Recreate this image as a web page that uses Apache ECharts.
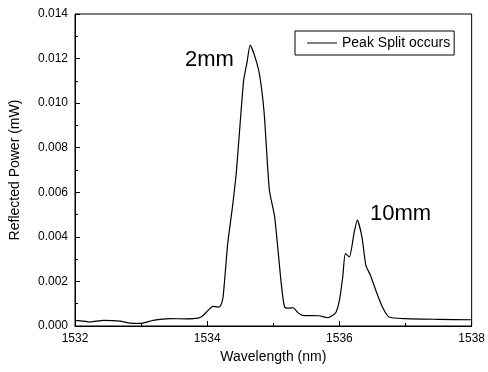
<!DOCTYPE html>
<html>
<head>
<meta charset="utf-8">
<script src="https://cdn.jsdelivr.net/npm/echarts@6/dist/echarts.min.js"></script>
<style>
  html, body { margin: 0; padding: 0; background: #fff; }
  #main { width: 488px; height: 372px; }
</style>
</head>
<body>
<div id="main"></div>
<script>
// wavelength (nm) and reflected power (mW)
var wavelength = [
  1532.00, 1532.12, 1532.23, 1532.43, 1532.68, 1532.83, 1533.00, 1533.18, 1533.43, 1533.68,
  1533.86, 1533.93, 1533.99, 1534.09, 1534.16, 1534.20, 1534.24, 1534.31, 1534.38, 1534.44,
  1534.55, 1534.60, 1534.65, 1534.72, 1534.79, 1534.86, 1534.94, 1535.02, 1535.12, 1535.17,
  1535.24, 1535.30, 1535.37, 1535.44, 1535.69, 1535.82, 1535.90, 1535.95, 1536.00, 1536.05,
  1536.09, 1536.15, 1536.22, 1536.27, 1536.34, 1536.40, 1536.47, 1536.55, 1536.65, 1536.75,
  1537.00, 1537.50, 1538.00
];
var power = [
  0.00025, 0.00022, 0.00018, 0.00025, 0.00022, 0.00013, 0.00012, 0.00025, 0.00033, 0.00032,
  0.00035, 0.00045, 0.00063, 0.00088, 0.00085, 0.00090, 0.0013, 0.0037, 0.0053, 0.0069,
  0.0110, 0.0118, 0.0126, 0.0121, 0.0113, 0.0096, 0.0061, 0.0049, 0.0019, 0.00085,
  0.00080, 0.00082, 0.00060, 0.00048, 0.00046, 0.00037, 0.00048, 0.00063, 0.00115, 0.0022,
  0.00325, 0.0031, 0.00415, 0.00475, 0.0040, 0.00272, 0.00227, 0.0016, 0.00085, 0.0004,
  0.00033, 0.00030, 0.00028
];
var seriesName = 'Peak Split occurs';
var notes = [
  { text: '2mm', x: 185, y: 49 },
  { text: '10mm', x: 370, y: 203 }
];

var chart = echarts.init(document.getElementById('main'));

var font = 'Liberation Sans, Arial, sans-serif';

chart.setOption({
  animation: false,
  backgroundColor: '#fff',
  grid: {
    left: 75, right: 15, top: 14, bottom: 46,
    show: true, borderColor: '#000', borderWidth: 1
  },
  legend: {
    data: [seriesName],
    left: 295, top: 31,
    padding: [5, 4, 5, 12],
    borderColor: '#000', borderWidth: 1,
    icon: 'rect',
    itemWidth: 30, itemHeight: 1, itemGap: 4,
    textStyle: { fontFamily: font, fontSize: 14, color: '#000' }
  },
  xAxis: {
    type: 'value',
    min: 1532, max: 1538, interval: 2,
    name: 'Wavelength (nm)',
    nameLocation: 'middle', nameGap: 23,
    nameTextStyle: { fontFamily: font, fontSize: 14, color: '#000' },
    axisLine: { lineStyle: { color: '#000' } },
    axisTick: { inside: true, length: 5, lineStyle: { color: '#000' } },
    minorTick: { show: true, splitNumber: 2, length: 3, lineStyle: { color: '#000' } },
    axisLabel: {
      fontFamily: font, fontSize: 12, color: '#000', margin: 7,
      formatter: function (v) { return String(v); }
    },
    splitLine: { show: false }
  },
  yAxis: {
    type: 'value',
    min: 0, max: 0.014, interval: 0.002,
    name: 'Reflected Power (mW)',
    nameLocation: 'middle', nameGap: 53,
    nameTextStyle: { fontFamily: font, fontSize: 14, color: '#000' },
    axisLine: { lineStyle: { color: '#000' } },
    axisTick: { inside: true, length: 5, lineStyle: { color: '#000' } },
    minorTick: { show: true, splitNumber: 2, length: 3, lineStyle: { color: '#000' } },
    axisLabel: {
      fontFamily: font, fontSize: 12, color: '#000', margin: 7,
      formatter: function (v) { return v.toFixed(3); }
    },
    splitLine: { show: false }
  },
  graphic: notes.map(function (n) {
    return {
      type: 'text', left: n.x, top: n.y,
      style: { text: n.text, fontFamily: font, fontSize: 22, fill: '#000' }
    };
  }),
  series: [{
    name: seriesName,
    type: 'line',
    symbol: 'none',
    smooth: 0.2,
    lineStyle: { color: '#000', width: 1.2 },
    itemStyle: { color: '#000' },
    data: wavelength.map(function (w, i) { return [w, power[i]]; })
  }]
});
</script>
</body>
</html>
